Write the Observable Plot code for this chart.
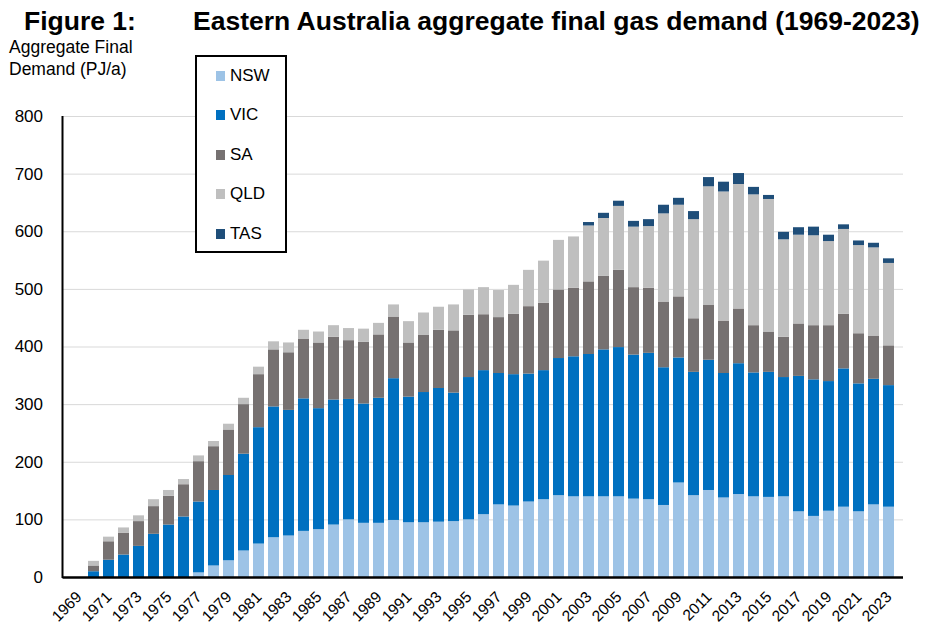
<!DOCTYPE html>
<html>
<head>
<meta charset="utf-8">
<script src="https://cdn.jsdelivr.net/npm/d3@7"></script>
<script src="https://cdn.jsdelivr.net/npm/@observablehq/plot@0.6"></script>
<style>
  html, body { margin: 0; padding: 0; background: #fff; }
  body { font-family: "Liberation Sans", Arial, sans-serif; }
  #wrap { position: relative; width: 927px; height: 625px; overflow: hidden; }
  .abs { position: absolute; white-space: nowrap; color: #000; }
  #legend { position: absolute; left: 195px; top: 55px; width: 88px; height: 194px;
            border: 2px solid #000; background: #fff; }
  .item { position: absolute; left: 19px; height: 20px; display: flex; align-items: center;
          font-size: 17px; }
  .sw { width: 9px; height: 10px; margin-right: 5px; }
</style>
</head>
<body>
<div id="wrap">
  <div class="abs" style="left:24px; top:8px; font-size:26.5px; font-weight:bold; line-height:26px;">Figure 1:</div>
  <div class="abs" style="left:193px; top:8px; font-size:26.5px; font-weight:bold; line-height:26px;">Eastern Australia aggregate final gas demand (1969-2023)</div>
  <div class="abs" style="left:9px; top:36px; font-size:17.5px; line-height:22px;">Aggregate Final<br>Demand (PJ/a)</div>
  <div id="chart"></div>
  <div id="legend"></div>
</div>
<script>
const years = d3.range(1969, 2024);
const states = ["NSW", "VIC", "SA", "QLD", "TAS"];
const colors = ["#9DC3E6", "#0070C0", "#767171", "#BFBFBF", "#1F4E79"];
const yTicks = [0, 100, 200, 300, 400, 500, 600, 700, 800];
const xTickYears = years.filter(y => (y - 1969) % 2 === 0);

const nsw = [0, 0, 0, 0, 0, 0, 0, 0, 8, 20, 29, 46, 58, 69, 72, 80, 83, 91, 100, 94, 94, 99, 95, 95, 96, 97, 100, 109, 126, 124, 131, 135, 142, 140, 140, 140, 140, 136, 135, 125, 164, 142, 151, 138, 144, 140, 139, 140, 114, 106, 115, 122, 114, 126, 122];
const vic = [0, 10, 30, 39, 54, 75, 91, 105, 123, 131, 148, 168, 202, 227, 218, 230, 210, 217, 209, 207, 217, 246, 218, 226, 232, 223, 247, 250, 228, 228, 222, 224, 238, 243, 247, 255, 259, 250, 254, 239, 217, 214, 226, 216, 227, 215, 217, 207, 235, 237, 225, 240, 222, 218, 211];
const sa  = [0, 10, 32, 38, 43, 48, 50, 56, 70, 76, 79, 86, 92, 99, 100, 103, 114, 109, 102, 107, 110, 107, 94, 99, 101, 108, 108, 97, 97, 105, 117, 117, 119, 119, 126, 128, 134, 117, 113, 114, 106, 93, 95, 91, 95, 82, 70, 70, 91, 94, 97, 95, 87, 75, 69];
const qld = [0, 8, 8, 9, 10, 12, 10, 9, 10, 9, 10, 11, 13, 14, 17, 16, 19, 20, 21, 23, 20, 21, 37, 39, 40, 45, 44, 47, 47, 50, 63, 73, 86, 89, 97, 100, 111, 105, 107, 153, 159, 172, 206, 224, 216, 227, 230, 169, 154, 156, 146, 147, 153, 153, 143];
const tas = [0, 0, 0, 0, 0, 0, 0, 0, 0, 0, 0, 0, 0, 0, 0, 0, 0, 0, 0, 0, 0, 0, 0, 0, 0, 0, 0, 0, 0, 0, 0, 0, 0, 0, 6, 9, 9, 10, 12, 15, 12, 14, 16, 17, 19, 13, 7, 13, 13, 15, 11, 8, 8, 8, 8];

const series = {NSW: nsw, VIC: vic, SA: sa, QLD: qld, TAS: tas};
const data = [];
years.forEach((yr, i) => {
  states.forEach(s => data.push({year: yr, state: s, value: series[s][i]}));
});

const W = 927, H = 625;
const mL = 62.5, mR = 24, mT = 116, mB = 48;

const chart = Plot.plot({
  width: W,
  height: H,
  marginLeft: mL,
  marginRight: mR,
  marginTop: mT,
  marginBottom: mB,
  style: {fontFamily: "'Liberation Sans', Arial, sans-serif", color: "#000", background: "transparent"},
  x: {type: "band", domain: years, paddingInner: 0.3, paddingOuter: 0.17},
  y: {domain: [0, 800]},
  color: {domain: states, range: colors},
  marks: [
    Plot.gridY(yTicks, {stroke: "#d9d9d9", strokeOpacity: 1, strokeWidth: 1}),
    Plot.barY(data, Plot.stackY({x: "year", y: "value", fill: "state", order: states})),
    Plot.ruleY([0], {stroke: "#000", strokeWidth: 2.5}),
    Plot.axisY(yTicks, {tickSize: 0, tickPadding: 20, fontSize: 17, label: null}),
    Plot.axisX(xTickYears, {tickSize: 0, tickPadding: 17, tickRotate: -45, fontSize: 15.5, label: null, tickFormat: d => String(d)})
  ]
});

document.getElementById("chart").appendChild(chart);

// left axis line
const y = chart.scale("y");
d3.select(chart).append("line")
  .attr("x1", mL).attr("x2", mL)
  .attr("y1", y.apply(800)).attr("y2", y.apply(0) + 1)
  .attr("stroke", "#000").attr("stroke-width", 2);

// legend
const leg = document.getElementById("legend");
states.forEach((s, i) => {
  const it = document.createElement("div");
  it.className = "item";
  it.style.top = (75.7 + i * 39.5 - 55 - 2 - 10) + "px";
  const sw = document.createElement("div");
  sw.className = "sw";
  sw.style.background = colors[i];
  const tx = document.createElement("span");
  tx.textContent = s;
  it.appendChild(sw); it.appendChild(tx);
  leg.appendChild(it);
});
</script>
</body>
</html>
